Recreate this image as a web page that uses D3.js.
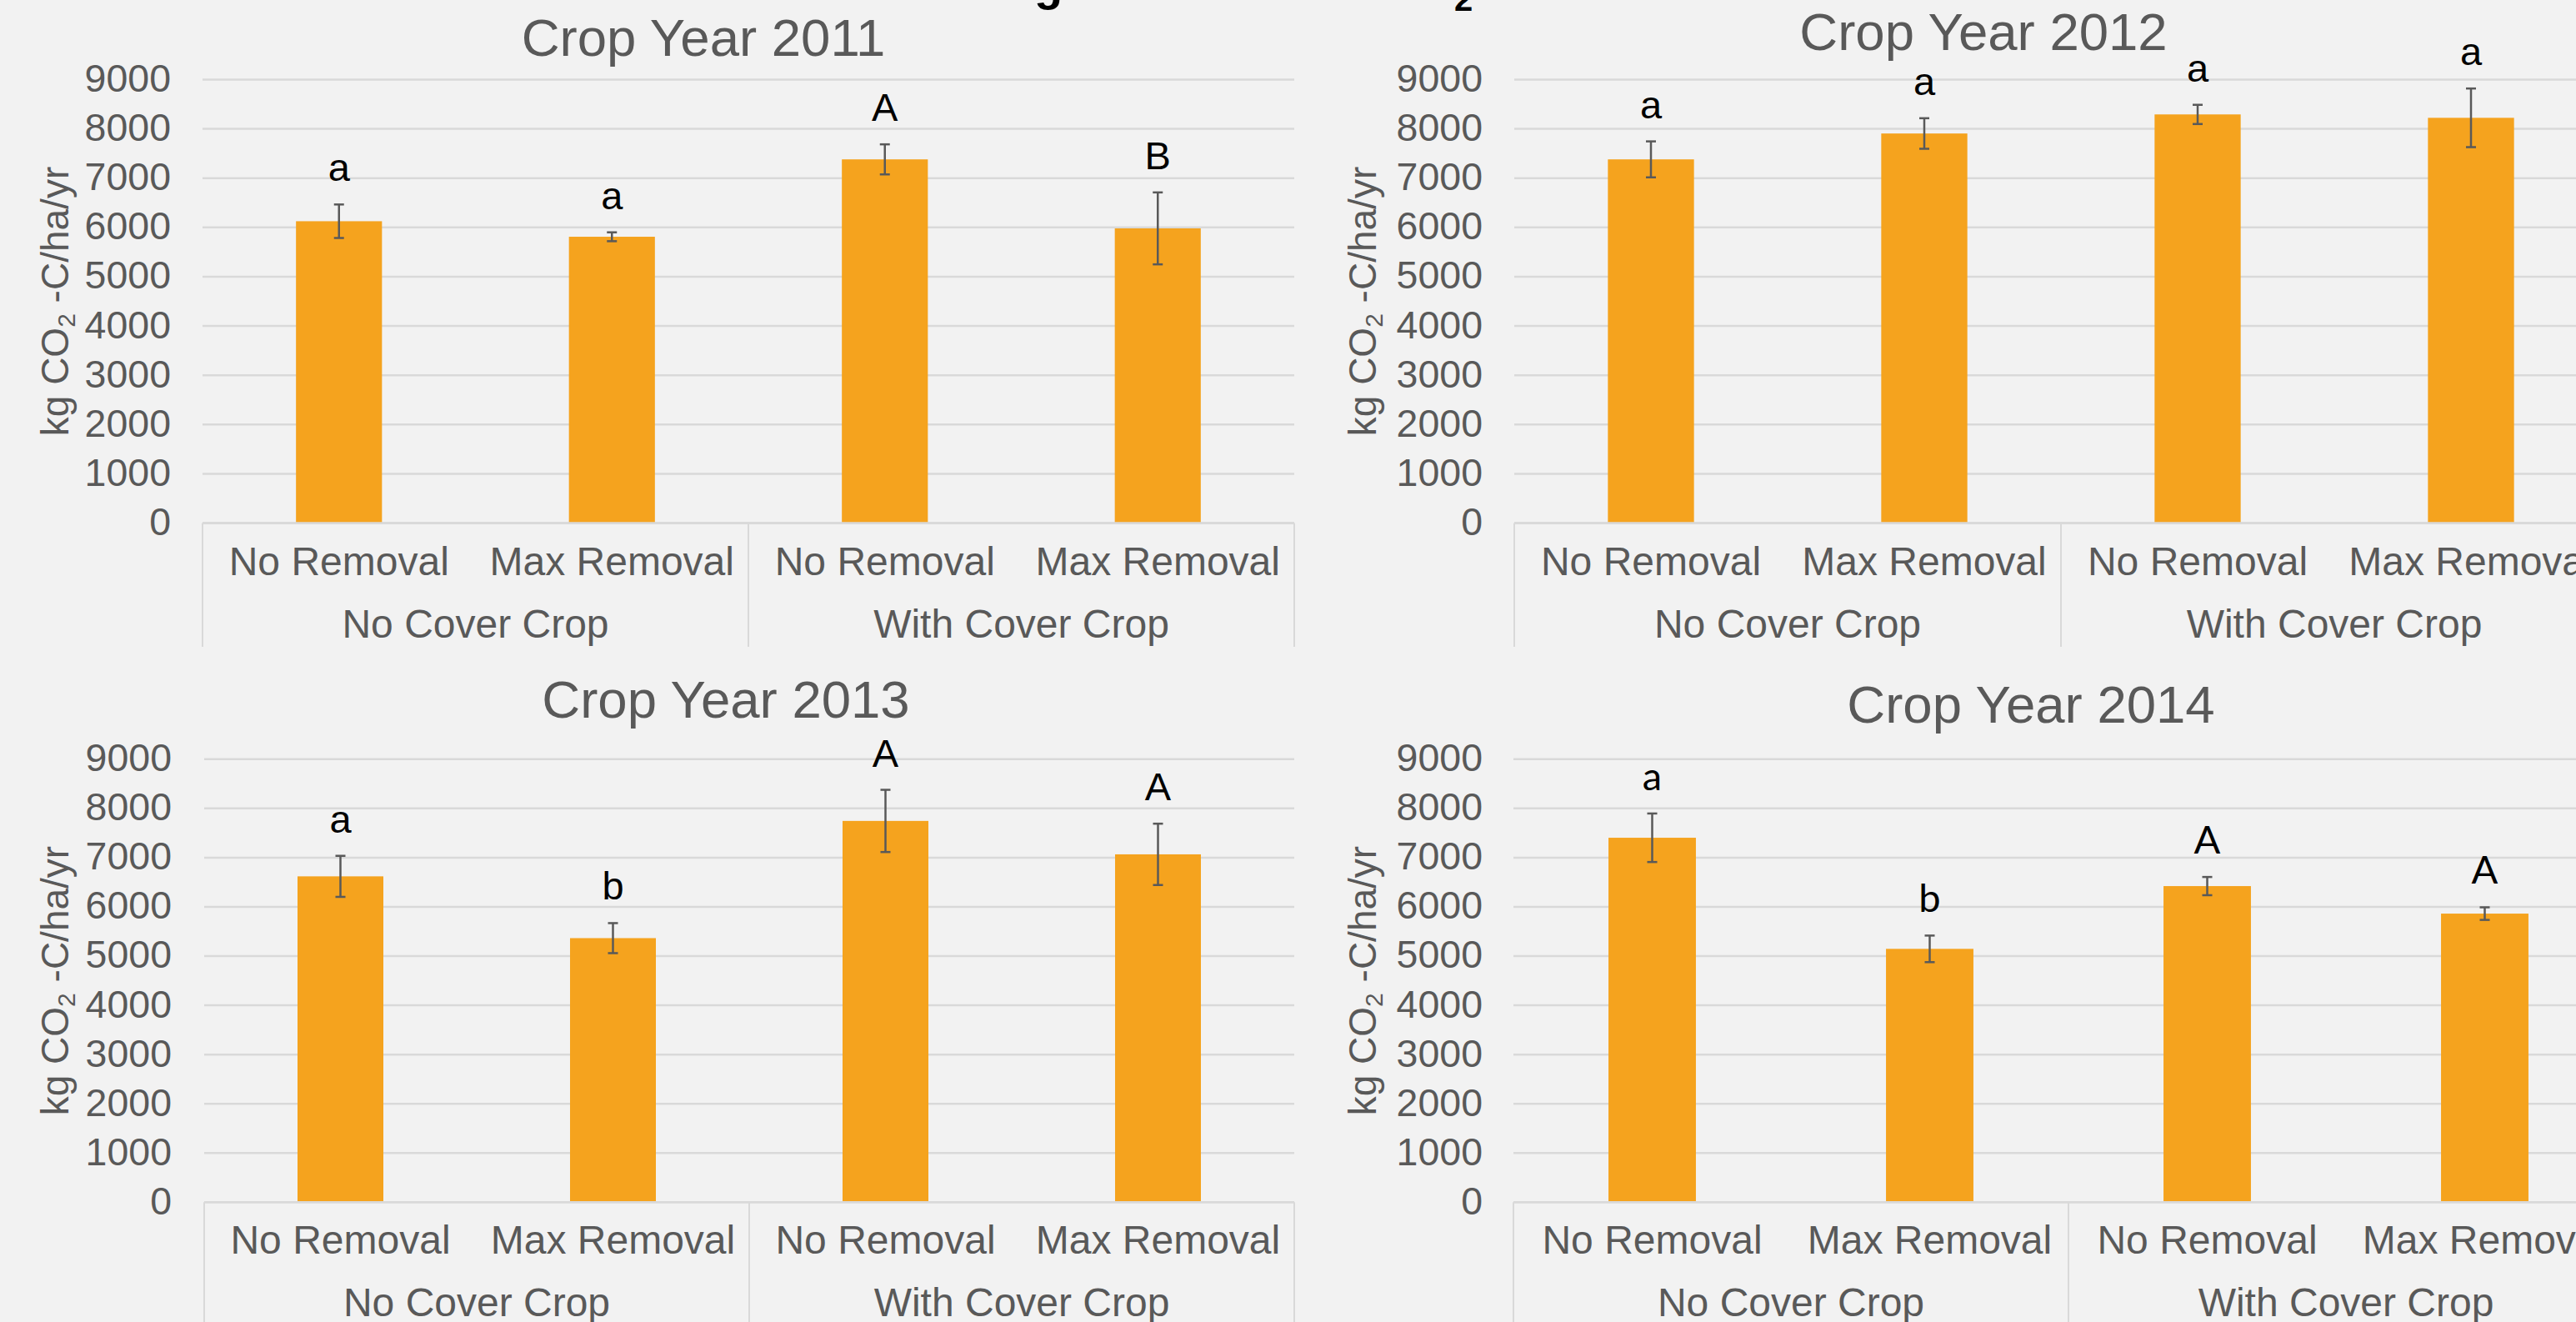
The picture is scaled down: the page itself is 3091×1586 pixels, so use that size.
<!DOCTYPE html>
<html><head><meta charset="utf-8">
<script src="https://cdn.jsdelivr.net/npm/d3@7"></script>
<style>
html,body{margin:0;padding:0;background:#f2f2f2;overflow:hidden}
svg{display:block}
</style></head><body>
<svg id="chart" width="3091" height="1586"></svg>
<script>
// ---------- data ----------
const categories = ["No Removal", "Max Removal", "No Removal", "Max Removal"];
const groups = ["No Cover Crop", "With Cover Crop"];
const yTicks = [0, 1000, 2000, 3000, 4000, 5000, 6000, 7000, 8000, 9000];
const yTitle = ["kg CO", "2", " -C/ha/yr"];

const titles = ["Crop Year 2011", "Crop Year 2012", "Crop Year 2013", "Crop Year 2014"];

const values2011 = [6125, 5810, 7380, 5980];
const errors2011 = [340, 90, 305, 730];
const letters2011 = ["a", "a", "A", "B"];

const values2012 = [7380, 7905, 8292, 8223];
const errors2012 = [365, 310, 195, 595];
const letters2012 = ["a", "a", "a", "a"];

const values2013 = [6620, 5365, 7746, 7067];
const errors2013 = [417, 305, 632, 623];
const letters2013 = ["a", "b", "A", "A"];

const values2014 = [7404, 5147, 6422, 5863];
const errors2014 = [493, 270, 185, 128];
const letters2014 = ["a", "b", "A", "A"];

const series = [
  {values: values2011, errors: errors2011, letters: letters2011},
  {values: values2012, errors: errors2012, letters: letters2012},
  {values: values2013, errors: errors2013, letters: letters2013},
  {values: values2014, errors: errors2014, letters: letters2014}
];

// ---------- layout ----------
const layouts = [
  {x0: 243, x1: 1553, yTop: 95.4, yBot: 627.6, titleX: 844, titleY: 67, tickX: 205, yTitleX: 82, catY: 690, grpY: 765, sepBot: 776, letterFont: "'Liberation Sans', Arial, sans-serif"},
  {x0: 1817, x1: 3129, yTop: 95.4, yBot: 627.6, titleX: 2380, titleY: 60, tickX: 1779, yTitleX: 1651, catY: 690, grpY: 765, sepBot: 776, letterFont: "'Liberation Sans', Arial, sans-serif"},
  {x0: 245, x1: 1553, yTop: 910.8, yBot: 1442.3, titleX: 871, titleY: 861, tickX: 206, yTitleX: 82, catY: 1504, grpY: 1579, sepBot: 1586, letterFont: "'Liberation Sans', Arial, sans-serif"},
  {x0: 1816, x1: 3148, yTop: 910.8, yBot: 1442.3, titleX: 2437, titleY: 867, tickX: 1779, yTitleX: 1651, catY: 1504, grpY: 1579, sepBot: 1586, letterFont: "Lato, 'Open Sans', sans-serif"}
];

const FONT = "'Liberation Sans', Arial, Helvetica, sans-serif";
const GREY = "#595959";
const GRID = "#d9d9d9";
const BAR = "#f5a31e";

const svg = d3.select("#chart");
svg.append("rect").attr("width", 3091).attr("height", 1586).attr("fill", "#f2f2f2");

// fragments of the cropped heading above the panels
svg.append("text").attr("x", 1258).attr("y", 0).attr("text-anchor", "middle")
  .attr("font-family", FONT).attr("font-weight", "bold").attr("font-size", 56).attr("fill", "#000").text("g");
svg.append("text").attr("x", 1756).attr("y", 13).attr("text-anchor", "middle")
  .attr("font-family", FONT).attr("font-weight", "bold").attr("font-size", 40).attr("fill", "#000").text("2");

series.forEach((s, pi) => {
  const L = layouts[pi];
  const g = svg.append("g");

  const y = d3.scaleLinear().domain([0, 9000]).range([L.yBot, L.yTop]);
  const x = d3.scaleBand().domain(d3.range(categories.length)).range([L.x0, L.x1])
    .paddingInner(0.685).paddingOuter(0.3425);
  const step = x.step();

  // gridlines
  g.selectAll(".grid").data(yTicks).join("line")
    .attr("x1", L.x0).attr("x2", L.x1)
    .attr("y1", d => y(d)).attr("y2", d => y(d))
    .attr("stroke", GRID).attr("stroke-width", 2.5);

  // y tick labels via axis
  const yAxis = d3.axisLeft(y).tickValues(yTicks).tickFormat(d3.format("d")).tickSize(0).tickPadding(0);
  const ag = g.append("g").attr("transform", `translate(${L.tickX},0)`).call(yAxis);
  ag.select(".domain").remove();
  ag.selectAll("text").attr("font-family", FONT).attr("font-size", 46.5).attr("fill", GREY)
    .attr("dy", "0.3em").attr("x", 0);

  // bars
  g.selectAll(".bar").data(s.values).join("rect")
    .attr("x", (d, i) => x(i)).attr("width", x.bandwidth())
    .attr("y", d => y(d)).attr("height", d => y(0) - y(d))
    .attr("fill", BAR);

  // error bars
  const eb = g.selectAll(".eb").data(s.values).join("g")
    .attr("transform", (d, i) => `translate(${x(i) + x.bandwidth() / 2},0)`);
  eb.append("line").attr("x1", 0).attr("x2", 0)
    .attr("y1", (d, i) => y(d + s.errors[i])).attr("y2", (d, i) => y(d - s.errors[i]))
    .attr("stroke", GREY).attr("stroke-width", 2.5);
  eb.append("line").attr("x1", -6).attr("x2", 6)
    .attr("y1", (d, i) => y(d + s.errors[i])).attr("y2", (d, i) => y(d + s.errors[i]))
    .attr("stroke", GREY).attr("stroke-width", 2.5);
  eb.append("line").attr("x1", -6).attr("x2", 6)
    .attr("y1", (d, i) => y(d - s.errors[i])).attr("y2", (d, i) => y(d - s.errors[i]))
    .attr("stroke", GREY).attr("stroke-width", 2.5);

  // significance letters
  g.selectAll(".letter").data(s.letters).join("text")
    .attr("x", (d, i) => x(i) + x.bandwidth() / 2)
    .attr("y", (d, i) => y(s.values[i] + s.errors[i]) - 28)
    .attr("text-anchor", "middle")
    .attr("font-family", L.letterFont).attr("font-size", 47).attr("fill", "#000")
    .text(d => d);

  // x axis baseline
  g.append("line").attr("x1", L.x0).attr("x2", L.x1).attr("y1", y(0)).attr("y2", y(0))
    .attr("stroke", GRID).attr("stroke-width", 2.5);

  // group separators
  const sepX = [L.x0, L.x0 + step * 2, L.x1];
  g.selectAll(".sep").data(sepX).join("line")
    .attr("x1", d => d).attr("x2", d => d).attr("y1", y(0)).attr("y2", L.sepBot)
    .attr("stroke", GRID).attr("stroke-width", 2);

  // category labels
  g.selectAll(".cat").data(categories).join("text")
    .attr("x", (d, i) => x(i) + x.bandwidth() / 2).attr("y", L.catY)
    .attr("text-anchor", "middle").attr("font-family", FONT).attr("font-size", 48).attr("fill", GREY)
    .text(d => d);

  // group labels
  g.selectAll(".grp").data(groups).join("text")
    .attr("x", (d, i) => L.x0 + step * (2 * i + 1)).attr("y", L.grpY)
    .attr("text-anchor", "middle").attr("font-family", FONT).attr("font-size", 48).attr("fill", GREY)
    .text(d => d);

  // title
  g.append("text").attr("x", L.titleX).attr("y", L.titleY).attr("text-anchor", "middle")
    .attr("font-family", FONT).attr("font-size", 63.5).attr("fill", GREY).text(titles[pi]);

  // y-axis title
  const yt = g.append("text")
    .attr("transform", `translate(${L.yTitleX},${(L.yTop + L.yBot) / 2}) rotate(-90)`)
    .attr("text-anchor", "middle").attr("font-family", FONT).attr("font-size", 46).attr("fill", GREY);
  yt.append("tspan").text(yTitle[0]);
  yt.append("tspan").attr("font-size", 30).attr("dy", 8).text(yTitle[1]);
  yt.append("tspan").attr("dy", -8).text(yTitle[2]);
});
</script>
</body></html>
